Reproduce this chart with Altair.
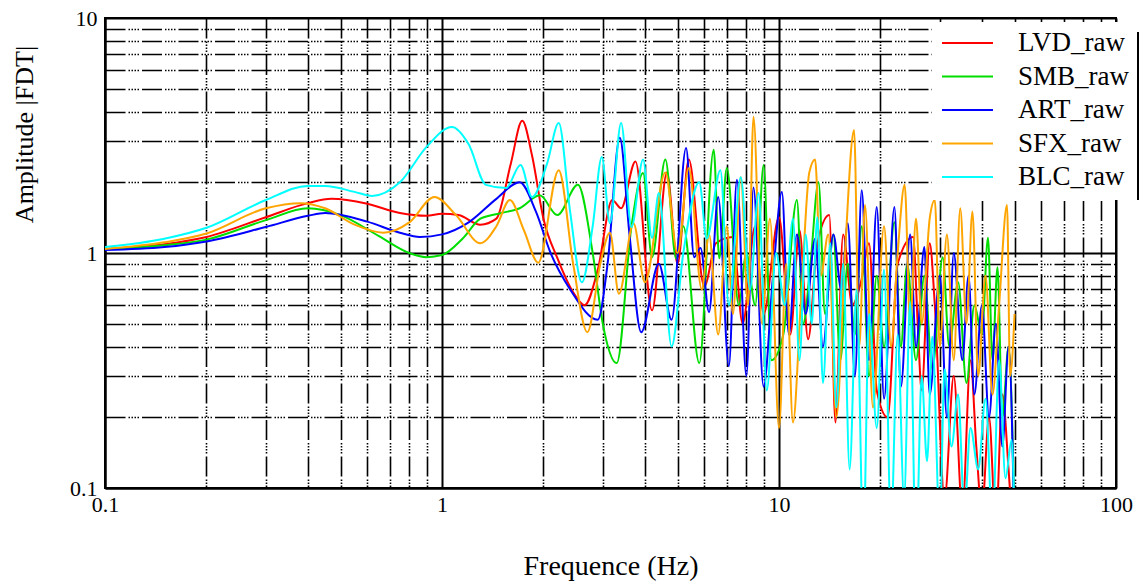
import altair as alt
import pandas as pd

series_names = ["LVD_raw", "SMB_raw", "ART_raw", "SFX_raw", "BLC_raw"]
series_colors = ["#ff0000", "#00dd00", "#0000ff", "#ffa500", "#00ffff"]

# ---- LVD_raw (red) ----
lvd_f = [0.1, 0.15, 0.2, 0.3, 0.4, 0.47, 0.6, 0.75, 0.9, 1.0, 1.12, 1.3, 1.45, 1.6, 1.73, 1.85, 2.0, 2.2,
         2.45, 2.65, 2.9, 3.2, 3.4, 3.75, 4.2, 4.65, 5.0, 5.4, 6.0, 6.5, 7.3, 7.8, 8.5, 9.0, 10.0, 10.8,
         11.5, 12.2, 13.0, 14.1, 14.7, 15.5, 16.5, 17.5, 18.5, 19.5, 21.0, 22.5, 25.0, 25.8, 26.5, 28.0,
         29.0, 31.0, 33.0, 35.0, 37.0, 38.5, 40.0, 42.0, 44.0, 46.0, 48.0, 50.0]
lvd_a = [1.04, 1.09, 1.17, 1.42, 1.63, 1.70, 1.62, 1.48, 1.44, 1.47, 1.45, 1.32, 1.40, 2.4, 3.65, 2.6, 1.4, 0.95,
         0.68, 0.60, 0.85, 1.68, 1.55, 2.45, 0.57, 2.2, 0.9, 2.5, 0.72, 1.1, 1.17, 0.5, 1.3, 0.55, 1.42, 0.45,
         1.25, 0.43, 1.1, 1.45, 0.19, 1.2, 0.6, 0.75, 1.1, 0.26, 0.2, 0.9, 1.17, 0.5, 0.26, 1.1,
         0.6, 0.09, 0.3, 0.08, 0.35, 0.15, 0.08, 0.2, 0.07, 0.25, 0.12, 0.05]

# ---- SMB_raw (green) ----
smb_f = [0.1, 0.15, 0.2, 0.3, 0.4, 0.5, 0.65, 0.8, 0.9, 1.0, 1.15, 1.3, 1.5, 1.7, 1.95, 2.2, 2.53, 2.8, 3.0,
         3.3, 3.65, 3.95, 4.2, 4.6, 4.95, 5.2, 5.8, 6.4, 6.65, 7.0, 7.6, 8.0, 8.5, 9.0, 9.5, 10.3, 11.3,
         11.8, 12.4, 13.1, 13.7, 14.5, 15.2, 16.0, 16.8, 17.6, 18.5, 19.5, 20.5, 22.0, 23.0, 24.0, 25.5,
         27.0, 28.5, 30.6, 32.0, 34.0, 36.0, 38.0, 40.0, 41.7, 43.0, 44.5, 46.0, 48.0, 50.0]
smb_a = [1.04, 1.08, 1.14, 1.38, 1.55, 1.45, 1.18, 1.0, 0.96, 0.98, 1.15, 1.40, 1.48, 1.55, 1.76, 1.45, 1.95, 1.0, 0.5,
         0.34, 1.3, 2.19, 0.96, 2.5, 0.95, 1.3, 0.34, 2.75, 0.95, 2.3, 0.6, 1.0, 0.6, 2.37, 0.35, 0.45, 1.68,
         0.5, 0.9, 2.0, 0.55, 1.2, 0.35, 0.9, 0.45, 1.3, 0.3, 0.8, 0.4, 1.35, 0.4, 0.9, 0.35,
         0.8, 0.32, 0.96, 0.4, 0.75, 0.28, 0.6, 0.45, 1.16, 0.35, 0.87, 0.2, 0.4, 0.07]

# ---- ART_raw (blue) ----
art_f = [0.1, 0.15, 0.2, 0.3, 0.4, 0.45, 0.6, 0.75, 0.86, 1.0, 1.2, 1.45, 1.7, 1.9, 2.1, 2.4, 2.9, 3.1, 3.37,
         3.6, 3.9, 4.4, 4.8, 5.3, 5.6, 5.85, 6.2, 6.6, 7.1, 7.5, 8.0, 8.4, 9.0, 9.6, 10.2, 10.7, 11.3,
         12.0, 12.8, 13.5, 14.5, 15.3, 16.0, 16.8, 17.6, 18.5, 19.5, 20.5, 22.0, 23.0, 24.5, 25.5, 27.0,
         28.0, 30.0, 31.5, 33.0, 35.0, 36.5, 38.0, 40.0, 42.0, 44.0, 46.0, 48.0, 50.0]
art_a = [1.03, 1.06, 1.12, 1.29, 1.44, 1.48, 1.36, 1.22, 1.17, 1.2, 1.35, 1.7, 2.0, 1.5, 1.0, 0.7, 0.52, 0.9, 3.09,
         1.2, 0.46, 0.9, 0.52, 2.8, 0.96, 1.05, 0.56, 1.73, 0.33, 2.05, 0.3, 1.9, 0.27, 0.8, 1.82, 0.45, 1.2,
         0.55, 1.15, 0.4, 1.2, 0.7, 1.34, 0.3, 1.85, 0.35, 1.57, 0.24, 1.57, 0.27, 1.2, 0.4, 1.06,
         0.25, 0.8, 0.2, 1.0, 0.35, 0.8, 0.25, 0.6, 0.2, 0.5, 0.15, 0.4, 0.06]

# ---- SFX_raw (orange) ----
sfx_f = [0.1, 0.15, 0.2, 0.3, 0.38, 0.45, 0.55, 0.67, 0.8, 0.95, 1.1, 1.3, 1.45, 1.59, 1.75, 1.93, 2.22, 2.45,
         2.7, 2.95, 3.15, 3.35, 3.7, 4.0, 4.6, 5.0, 5.4, 5.9, 6.2, 6.6, 7.0, 7.3, 7.7, 8.1, 8.4, 8.9, 9.4,
         10.0, 10.5, 11.0, 11.6, 12.3, 12.8, 13.3, 14.0, 14.8, 15.7, 16.7, 17.3, 18.0, 19.0, 20.5, 21.5,
         22.5, 23.6, 24.5, 25.5, 26.5, 28.0, 29.0, 30.0, 31.5, 33.0, 34.5, 36.0, 37.5, 39.0, 41.0, 43.0,
         45.0, 47.5, 48.5, 50.0]
sfx_a = [1.04, 1.11, 1.21, 1.55, 1.63, 1.55, 1.32, 1.22, 1.35, 1.73, 1.45, 1.10, 1.3, 1.68, 1.25, 0.91, 2.25, 0.9,
         0.46, 0.9, 1.22, 0.67, 1.34, 0.75, 2.2, 1.0, 2.3, 0.7, 1.2, 0.45, 1.3, 0.55, 2.1, 0.6, 3.8, 0.5, 1.4,
         0.18, 0.9, 0.19, 0.6, 2.2, 2.5, 0.8, 1.2, 0.2, 1.0, 3.34, 0.4, 1.6, 0.22, 1.3, 0.4,
         1.0, 1.95, 0.5, 1.4, 0.5, 1.4, 1.68, 0.4, 1.2, 0.35, 1.55, 0.5, 1.5, 0.3, 0.8, 0.25,
         0.6, 1.6, 0.3, 0.55]

# ---- BLC_raw (cyan) ----
blc_f = [0.1, 0.15, 0.2, 0.3, 0.4, 0.45, 0.55, 0.62, 0.75, 0.9, 1.07, 1.2, 1.35, 1.55, 1.71, 1.85, 2.05, 2.22,
         2.4, 2.6, 2.8, 2.98, 3.15, 3.4, 3.65, 3.95, 4.2, 4.4, 4.8, 5.2, 5.8, 6.1, 6.7, 7.1, 7.7, 8.2, 8.7,
         9.2, 9.8, 10.4, 11.0, 11.5, 12.0, 12.5, 13.0, 13.5, 14.2, 14.8, 15.5, 16.2, 17.0, 17.8, 18.5,
         19.5, 20.5, 21.5, 22.5, 23.5, 24.5, 25.5, 26.5, 27.5, 28.5, 30.0, 31.0, 32.5, 34.0, 35.5, 37.0,
         39.0, 41.0, 43.0, 45.0, 47.0, 49.0, 50.0]
blc_a = [1.06, 1.15, 1.28, 1.68, 1.93, 1.93, 1.82, 1.75, 2.0, 2.83, 3.44, 2.9, 1.95, 1.89, 2.37, 1.73, 2.4, 3.57,
         1.5, 0.75, 1.3, 2.56, 1.34, 3.57, 1.29, 2.5, 1.16, 1.8, 0.4, 1.0, 2.0, 1.15, 2.25, 0.6, 2.1, 0.7, 1.8,
         0.26, 1.0, 0.6, 1.4, 0.35, 1.2, 0.5, 1.42, 0.28, 1.1, 0.22, 0.9, 0.12, 0.7, 0.06, 0.55,
         0.18, 0.85, 0.07, 0.45, 0.09, 0.62, 0.05, 0.3, 0.13, 0.44, 0.07, 0.32, 0.15, 0.25, 0.08, 0.18,
         0.12, 0.24, 0.07, 0.35, 0.11, 0.16, 0.07]

x_ticks = [0.1, 0.2, 0.3, 0.4, 0.5, 0.6, 0.7, 0.8, 0.9, 1, 2, 3, 4, 5, 6, 7, 8, 9,
           10, 20, 30, 40, 50, 60, 70, 80, 90, 100]
y_ticks = [0.1, 0.2, 0.3, 0.4, 0.5, 0.6, 0.7, 0.8, 0.9, 1, 2, 3, 4, 5, 6, 7, 8, 9, 10]

rows = []
for name, fs, amps in zip(series_names,
                          [lvd_f, smb_f, art_f, sfx_f, blc_f],
                          [lvd_a, smb_a, art_a, sfx_a, blc_a]):
    for i, (f, a) in enumerate(zip(fs, amps)):
        rows.append({"series": name, "freq": f, "amp": a, "idx": i})
df = pd.DataFrame(rows)
legend_df = pd.DataFrame({"series": series_names})

decade = "abs(log(datum.value)/LN10 - round(log(datum.value)/LN10)) < 0.001"
minor_dash = [20, 3, 1.5, 1.5, 1.5, 1.5, 1.5, 1.5, 1.5, 3]
FONT = "Liberation Serif"

x_axis = alt.Axis(
    values=x_ticks, format="~g", labelExpr=f"{decade} ? datum.label : ''",
    labelOverlap=False, labelFlush=False, labelFont=FONT, labelFontSize=22, labelColor="black",
    labelPadding=6, ticks=False, domainColor="black", domainWidth=2,
    grid=True, gridColor="black",
    gridDash={"condition": {"test": decade, "value": []}, "value": minor_dash},
    gridWidth={"condition": {"test": decade, "value": 2}, "value": 1.6},
    gridOpacity=1,
    title="Frequence (Hz)", titleFont=FONT, titleFontSize=28, titleFontWeight="normal",
    titleColor="black", titleY=86, titleBaseline="alphabetic",
)
y_axis = alt.Axis(
    values=y_ticks, format="~g", labelExpr=f"{decade} ? datum.label : ''",
    labelOverlap=False, labelFlush=False, labelFont=FONT, labelFontSize=22, labelColor="black",
    labelPadding=8, ticks=False, domainColor="black", domainWidth=2,
    grid=True, gridColor="black",
    gridDash={"condition": {"test": decade, "value": []}, "value": minor_dash},
    gridWidth={"condition": {"test": decade, "value": 2}, "value": 1.6},
    gridOpacity=1,
    title="Amplitude |FDT|", titleFont=FONT, titleFontSize=26, titleFontWeight="normal",
    titleColor="black", titleX=-81, titleY=116, titleAngle=270,
    titleAlign="center", titleBaseline="middle",
)

color_scale = alt.Scale(domain=series_names, range=series_colors)

lines = alt.Chart(df).mark_line(clip=True, strokeWidth=2, interpolate="monotone").encode(
    x=alt.X("freq:Q", scale=alt.Scale(type="log", domain=[0.1, 100], nice=False), axis=x_axis),
    y=alt.Y("amp:Q", scale=alt.Scale(type="log", domain=[0.1, 10], nice=False), axis=y_axis),
    color=alt.Color("series:N", scale=color_scale, legend=None),
    order=alt.Order("idx:Q"),
    detail="series:N",
)

# legend box (drawn as marks, top-right inside the plot)
legend_box = alt.Chart(pd.DataFrame({"k": [0]})).mark_rect(color="white").encode(
    x=alt.value(827), x2=alt.value(1034), y=alt.value(4), y2=alt.value(182)
)
legend_edge = alt.Chart(pd.DataFrame({"k": [0]})).mark_rule(color="black", strokeWidth=2).encode(
    x=alt.value(1033), y=alt.value(14), y2=alt.value(182)
)
row_y = alt.Y("series:N", sort=series_names,
              scale=alt.Scale(type="point", domain=series_names, range=[25, 159], padding=0),
              axis=None)
legend_lines = alt.Chart(legend_df).mark_rule(strokeWidth=2).encode(
    x=alt.value(837), x2=alt.value(888), y=row_y,
    color=alt.Color("series:N", scale=color_scale, legend=None),
)
legend_text = alt.Chart(legend_df).mark_text(
    align="left", baseline="middle", font=FONT, fontSize=27, color="black"
).encode(x=alt.value(913), y=row_y, text="series:N")

legend_layer = alt.layer(legend_box, legend_edge, legend_lines, legend_text)

chart = alt.layer(lines, legend_layer).resolve_scale(y="independent").properties(
    width=1011, height=470,
    autosize=alt.AutoSizeParams(type="none"),
    padding={"left": 105, "top": 18, "right": 23, "bottom": 94},
    background="white",
).configure_view(stroke="black", strokeWidth=2)

chart.save("out.html", embed_options={"renderer": "svg", "actions": False})
